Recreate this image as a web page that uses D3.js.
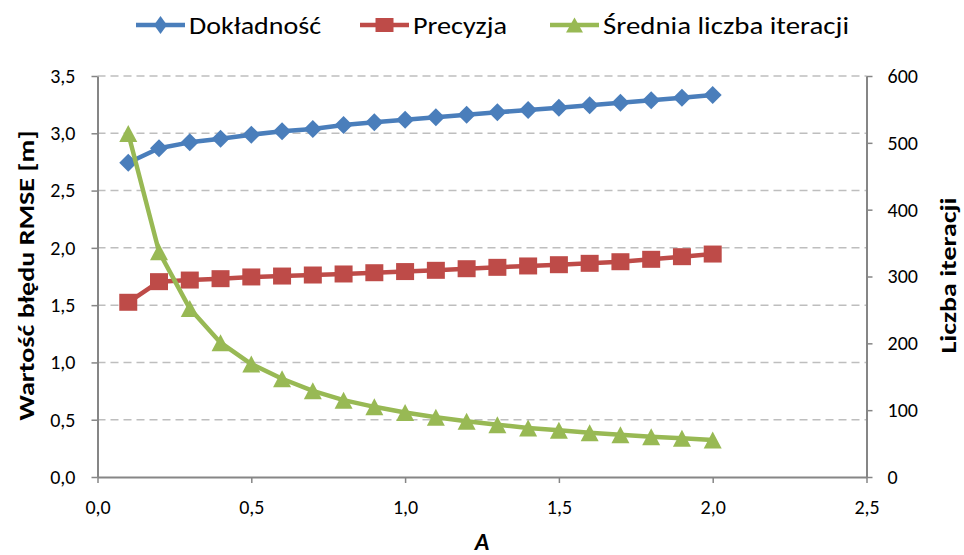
<!DOCTYPE html>
<html><head><meta charset="utf-8">
<script src="https://cdn.jsdelivr.net/npm/d3@7"></script>
<style>
body{margin:0;background:#fff;}
svg text{font-family:Carlito,Calibri,Lato,sans-serif;fill:#000;}
</style></head>
<body><svg id="c" width="964" height="555"></svg>
<script>
const xValues = [0.1,0.2,0.3,0.4,0.5,0.6,0.7,0.8,0.9,1.0,1.1,1.2,1.3,1.4,1.5,1.6,1.7,1.8,1.9,2.0];
const dokladnosc = [2.743,2.869,2.921,2.953,2.988,3.017,3.037,3.072,3.096,3.119,3.139,3.162,3.183,3.203,3.223,3.244,3.267,3.288,3.311,3.334];
const precyzja = [1.525,1.705,1.719,1.731,1.746,1.754,1.763,1.772,1.783,1.793,1.804,1.818,1.830,1.842,1.853,1.865,1.879,1.900,1.923,1.946];
const iteracje = [514,337,252,201,169,147,129,115,105,96.5,89.3,83.3,78.3,73.3,69.8,66.3,63.3,60.3,57.9,55.4];
const xTicks = [0,0.5,1.0,1.5,2.0,2.5];
const yLeftTicks = [0,0.5,1.0,1.5,2.0,2.5,3.0,3.5];
const yRightTicks = [0,100,200,300,400,500,600];
const seriesNames = ["Dokładność","Precyzja","Średnia liczba iteracji"];
const colors = ["#4a7ebb","#be4b48","#98b954"];

const svg = d3.select("#c");
const L = 97.5, R = 866.5, T = 76, B = 477;
const x = d3.scaleLinear().domain([0,2.5]).range([L,R]);
const yL = d3.scaleLinear().domain([0,3.5]).range([B,T]);
const yR = d3.scaleLinear().domain([0,600]).range([B,T]);
const fmt = d3.format(".1f");
const comma = v => fmt(v).replace(".",",");

// gridlines
svg.append("g").selectAll("line").data(yLeftTicks.filter(d=>d>0)).join("line")
  .attr("x1",L).attr("x2",R).attr("y1",d=>yL(d)).attr("y2",d=>yL(d))
  .attr("stroke","#bebebe").attr("stroke-width",1.5).attr("stroke-dasharray","8,5");

function styleAxis(g){
  g.selectAll("path").attr("stroke","#868686").attr("stroke-width",2);
  g.selectAll("line").attr("stroke","#868686").attr("stroke-width",1.5);
  g.selectAll("text").attr("font-size","20px").attr("fill","#000");
}
const gx = svg.append("g").attr("transform",`translate(0,${B})`)
  .call(d3.axisBottom(x).tickValues(xTicks).tickFormat(comma).tickSizeInner(6).tickSizeOuter(0).tickPadding(17));
styleAxis(gx);
const gl = svg.append("g").attr("transform",`translate(${L},0)`)
  .call(d3.axisLeft(yL).tickValues(yLeftTicks).tickFormat(comma).tickSizeInner(6).tickSizeOuter(0).tickPadding(16));
styleAxis(gl);
const gr = svg.append("g").attr("transform",`translate(${R},0)`)
  .call(d3.axisRight(yR).tickValues(yRightTicks).tickFormat(d3.format("d")).tickSizeInner(6).tickSizeOuter(0).tickPadding(15));
styleAxis(gr);

// axis titles
svg.append("text").attr("transform",`translate(${(L+R)/2},550)`).attr("text-anchor","middle")
  .attr("font-size","24px").attr("font-weight","bold").attr("font-style","italic").text("A");
svg.append("text").attr("transform",`translate(34,${(T+B)/2-1}) rotate(-90)`).attr("text-anchor","middle")
  .attr("font-size","23px").attr("font-weight","bold")
  .attr("textLength",290).attr("lengthAdjust","spacingAndGlyphs").text("Wartość błędu RMSE [m]");
svg.append("text").attr("transform",`translate(956,${(T+B)/2-1}) rotate(-90)`).attr("text-anchor","middle")
  .attr("font-size","23px").attr("font-weight","bold")
  .attr("textLength",156).attr("lengthAdjust","spacingAndGlyphs").text("Liczba iteracji");

// marker shapes
function diamond(w,h){return `M0,${-h/2}L${w/2},0L0,${h/2}L${-w/2},0Z`;}
function square(w,h){return `M${-w/2},${-h/2}H${w/2}V${h/2}H${-w/2}Z`;}
function triangle(w,h){return `M0,${-h/2}L${w/2},${h/2}H${-w/2}Z`;}
const markers = [diamond(18,18), square(18,17), triangle(18,17)];
const legendMarkers = [diamond(13,18), square(18,14), triangle(17,15)];

const data = [
  xValues.map((v,i)=>[x(v), yL(dokladnosc[i])]),
  xValues.map((v,i)=>[x(v), yL(precyzja[i])]),
  xValues.map((v,i)=>[x(v), yR(iteracje[i])])
];
const line = d3.line();
data.forEach((pts,k)=>{
  const g = svg.append("g");
  g.append("path").attr("d",line(pts)).attr("fill","none").attr("stroke",colors[k]).attr("stroke-width",4.5).attr("stroke-linejoin","round");
  g.selectAll("path.m").data(pts).join("path").attr("class","m")
    .attr("transform",d=>`translate(${d[0]},${d[1]})`)
    .attr("d",markers[k]).attr("fill",colors[k]);
});

// legend
const legX = [136,360,550];
const legTextLen = [132,94,246];
seriesNames.forEach((n,k)=>{
  const g = svg.append("g").attr("transform",`translate(${legX[k]},25)`);
  g.append("line").attr("x1",0).attr("x2",49).attr("y1",0).attr("y2",0).attr("stroke",colors[k]).attr("stroke-width",4.5);
  g.append("path").attr("transform","translate(24.5,0)").attr("d",legendMarkers[k]).attr("fill",colors[k]);
  g.append("text").attr("x",53).attr("y",9).attr("font-size","23.5px")
    .attr("textLength",legTextLen[k]).attr("lengthAdjust","spacingAndGlyphs").text(n);
});
</script></body></html>
